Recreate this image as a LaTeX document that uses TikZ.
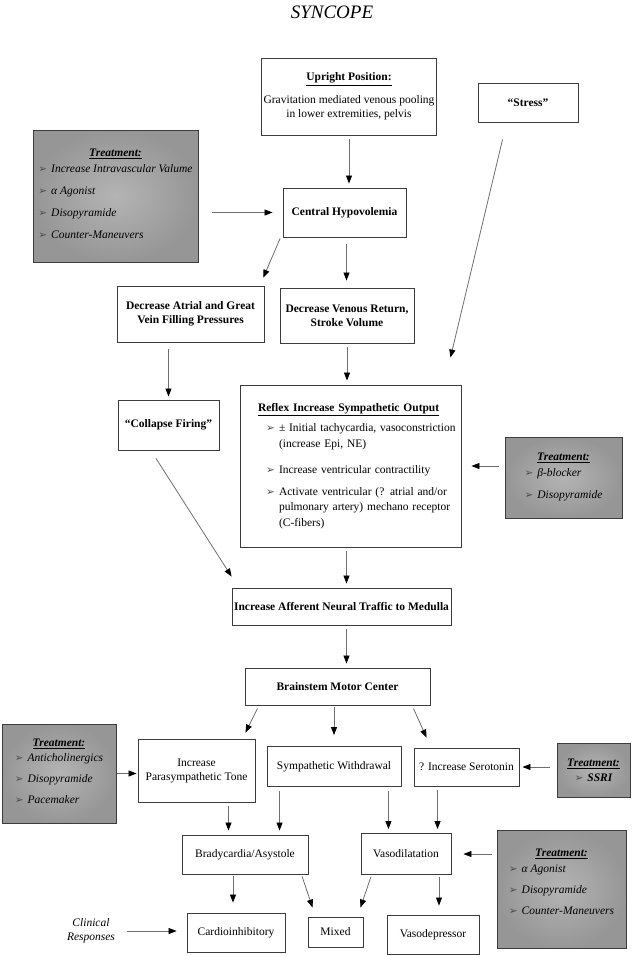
\documentclass[tikz,border=0pt]{standalone}
\usepackage{fontspec}
\setmainfont{Liberation Serif}
\newfontfamily\dejavu{DejaVu Sans}
\usetikzlibrary{arrows.meta}
\definecolor{boxline}{RGB}{60,60,60}
\definecolor{linkgray}{RGB}{110,110,110}
\definecolor{treatlight}{RGB}{180,180,180}
\definecolor{treatdark}{RGB}{150,150,150}
\newcommand{\arrowbul}{{\dejavu\fontsize{10.5}{10}\selectfont\textcolor{black!70}{➢}}\hspace{4pt}}

\begin{document}
\begin{tikzpicture}[x=1pt, y=-1pt,
        box/.style={rectangle, draw=boxline, line width=0.9pt, fill=white,
                    align=center, inner sep=2pt, font=\fontsize{11.5}{14}\selectfont},
        boldbox/.style={box, font=\fontsize{11.5}{14}\selectfont\bfseries},
        treat/.style={rectangle, draw=boxline, line width=1pt,
                      inner color=treatlight, outer color=treatdark,
                      align=center, inner sep=2pt, font=\fontsize{11.5}{14}\selectfont\itshape},
        arrow/.style={-{Triangle[length=8pt, width=6pt, color=black]}, draw=linkgray,
                      line width=0.8pt, shorten <=4pt, shorten >=4pt},
    ]
        \useasboundingbox (0,0) rectangle (632,956);

        \node[font=\fontsize{19}{22}\selectfont\itshape, anchor=base] (title) at (332,18) {SYNCOPE};

        % top row
        \node[box, minimum width=170pt, minimum height=77pt] (upright) at (349,96.5)
            {\underline{\textbf{Upright Position:}}\\[9pt]Gravitation mediated venous pooling\\in lower extremities, pelvis};
        \node[boldbox, minimum width=100pt, minimum height=39pt] (stress) at (528,102.5) {“Stress”};
        \node[treat, minimum width=165pt, minimum height=132pt] (tr1) at (115.5,196) {%
            \underline{\textbf{Treatment:}}\\[3pt]
            \begin{tabular}{@{}l@{}}
                \arrowbul Increase Intravascular Valume\\[8pt]
                \arrowbul α Agonist\\[8pt]
                \arrowbul Disopyramide\\[8pt]
                \arrowbul Counter-Maneuvers
            \end{tabular}};
        \node[boldbox, minimum width=123pt, minimum height=49pt] (central) at (344.5,212.5) {Central Hypovolemia};

        \node[boldbox, minimum width=147pt, minimum height=56pt] (atrial) at (190.5,314) {Decrease Atrial and Great\\Vein Filling Pressures};
        \node[boldbox, minimum width=134pt, minimum height=55pt] (venous) at (347,315.5) {Decrease Venous Return,\\Stroke Volume};
        \node[boldbox, minimum width=101pt, minimum height=50pt] (collapse) at (168.5,425) {“Collapse Firing”};

        % reflex box
        \node[box, minimum width=221pt, minimum height=162pt, text width=215pt, inner xsep=3pt, align=left,
              font=\fontsize{11.5}{15.5}\selectfont] (reflex) at (350.5,466) {%
            \hspace*{15pt}\underline{\textbf{Reflex Increase Sympathetic Output}}\\[4.5pt]
            \hspace*{23pt}\makebox[13pt][l]{\arrowbul}\mbox{± Initial tachycardia, vasoconstriction}\\[0.5pt]
            \hspace*{36pt}(increase Epi, NE)\\[10.5pt]
            \hspace*{23pt}\makebox[13pt][l]{\arrowbul}Increase ventricular contractility\\[6.5pt]
            \hspace*{23pt}\makebox[13pt][l]{\arrowbul}Activate ventricular (? atrial and/or\\
            \hspace*{36pt}pulmonary artery) mechano receptor\\
            \hspace*{36pt}(C-fibers)};
        \node[treat, minimum width=117pt, minimum height=81pt] (tr2) at (563.5,477.5) {%
            \underline{\textbf{Treatment:}}\\[3pt]
            \begin{tabular}{@{}l@{}}
                \arrowbul β-blocker\\[8pt]
                \arrowbul Disopyramide
            \end{tabular}};

        \node[boldbox, minimum width=217pt, minimum height=37pt] (afferent) at (341.5,606.5) {Increase Afferent Neural Traffic to Medulla};
        \node[boldbox, minimum width=185pt, minimum height=37pt] (brainstem) at (337.5,686.5) {Brainstem Motor Center};

        % efferent row
        \node[treat, minimum width=114pt, minimum height=99pt] (tr3) at (59,773.5) {%
            \underline{\textbf{Treatment:}}\\[2pt]
            \begin{tabular}{@{}l@{}}
                \arrowbul Anticholinergics\\[7pt]
                \arrowbul Disopyramide\\[7pt]
                \arrowbul Pacemaker
            \end{tabular}};
        \node[box, minimum width=117pt, minimum height=63pt] (parasymp) at (196.5,770.5) {Increase\\Parasympathetic Tone};
        \node[box, minimum width=134pt, minimum height=40pt] (symp) at (334,766.5) {Sympathetic Withdrawal};
        \node[box, minimum width=105pt, minimum height=38pt] (sero) at (466.5,767) {? Increase Serotonin};
        \node[treat, minimum width=73pt, minimum height=54pt] (ssri) at (593.5,770) {%
            \underline{\textbf{Treatment:}}\\[1pt]
            \arrowbul\textbf{SSRI}};

        \node[box, minimum width=126pt, minimum height=39pt] (brady) at (245,854.5) {Bradycardia/Asystole};
        \node[box, minimum width=90pt, minimum height=41pt] (vaso) at (406,854) {Vasodilatation};
        \node[treat, minimum width=129pt, minimum height=118pt] (tr4) at (561.5,889.5) {%
            \underline{\textbf{Treatment:}}\\[3pt]
            \begin{tabular}{@{}l@{}}
                \arrowbul α Agonist\\[7pt]
                \arrowbul Disopyramide\\[7pt]
                \arrowbul Counter-Maneuvers
            \end{tabular}\\[10pt]};

        % clinical responses
        \node[font=\fontsize{11.5}{14}\selectfont\itshape, align=center] (clinical) at (91,931) {Clinical\\Responses};
        \node[box, minimum width=98pt, minimum height=39pt] (cardio) at (236,932.5) {Cardioinhibitory};
        \node[box, minimum width=55pt, minimum height=30pt] (mixed) at (335.5,932) {Mixed};
        \node[box, minimum width=92pt, minimum height=39pt] (depressor) at (433,934.5) {Vasodepressor};

        % connectors
        \draw[arrow] (upright.south) -- (upright.south |- central.north);
        \draw[arrow, shorten <=13pt, shorten >=10pt] (tr1.east |- central.west) -- (central.west);
        \draw[arrow, shorten <=1pt, shorten >=2pt] ([xshift=-2pt]central.south west) -- ([xshift=-2pt,yshift=6pt]atrial.north east);
        \draw[arrow, shorten <=7pt, shorten >=7pt] ([xshift=2pt]central.south) -- ([xshift=2pt]central.south |- venous.north);
        \draw[arrow, shorten <=7pt, shorten >=3pt] (collapse.north |- atrial.south) -- (collapse.north);
        \draw[arrow] (venous.south) -- (venous.south |- reflex.north);
        \draw[arrow, shorten <=0pt, shorten >=0pt] ([xshift=25pt,yshift=-17pt]stress.south west) -- ([xshift=-11pt,yshift=27pt]reflex.north east);
        \draw[arrow, shorten <=0pt, shorten >=0pt] ([xshift=-12.5pt,yshift=-8pt]collapse.south) -- ([yshift=11pt]afferent.north west);
        \draw[arrow, shorten <=6pt, shorten >=10pt] (tr2.west |- reflex.east) -- (reflex.east);
        \draw[arrow] ([xshift=-4pt]reflex.south) -- ([xshift=-4pt]reflex.south |- afferent.north);
        \draw[arrow] ([xshift=5pt]afferent.south) -- ([xshift=5pt]afferent.south |- brainstem.north);

        \draw[arrow, shorten <=0pt, shorten >=0pt] ([xshift=13pt,yshift=-3pt]brainstem.south west) -- ([xshift=-10pt,yshift=6pt]parasymp.north east);
        \draw[arrow, shorten <=2pt, shorten >=11pt] (brainstem.south -| symp.north) -- (symp.north);
        \draw[arrow, shorten <=0pt, shorten >=0pt] ([xshift=-17pt,yshift=-3pt]brainstem.south east) -- ([xshift=13pt,yshift=10pt]sero.north west);
        \draw[arrow, shorten <=0pt, shorten >=1pt] (tr3.east) -- (tr3.east -| parasymp.west);
        \draw[arrow, shorten <=7pt, shorten >=3pt] (ssri.west |- sero.east) -- (sero.east);

        \draw[arrow] ([xshift=32pt]parasymp.south) -- ([xshift=32pt]parasymp.south |- brady.north);
        \draw[arrow] ([xshift=13pt]symp.south west) -- ([xshift=13pt]symp.south west |- brady.north);
        \draw[arrow] ([xshift=-13pt]symp.south east) -- ([xshift=-13pt]symp.south east |- vaso.north);
        \draw[arrow] ([xshift=24pt]sero.south west) -- ([xshift=24pt]sero.south west |- vaso.north);
        \draw[arrow, shorten <=5pt, shorten >=12pt] (tr4.west |- vaso.east) -- (vaso.east);

        \draw[arrow, shorten <=2pt, shorten >=10pt] ([xshift=-3pt]cardio.north |- brady.south) -- ([xshift=-3pt]cardio.north);
        \draw[arrow, shorten <=2pt, shorten >=0pt] ([xshift=-7pt]brady.south east) -- ([xshift=5pt,yshift=9pt]mixed.north west);
        \draw[arrow, shorten <=2pt, shorten >=0pt] ([xshift=11pt]vaso.south west) -- ([xshift=-3pt,yshift=9pt]mixed.north east);
        \draw[arrow, shorten <=2pt, shorten >=9pt] ([xshift=6pt]depressor.north |- vaso.south) -- ([xshift=6pt]depressor.north);
        \draw[arrow, shorten <=9pt, shorten >=10pt] (clinical.east) -- (clinical.east -| cardio.west);
    \end{tikzpicture}
\end{document}
